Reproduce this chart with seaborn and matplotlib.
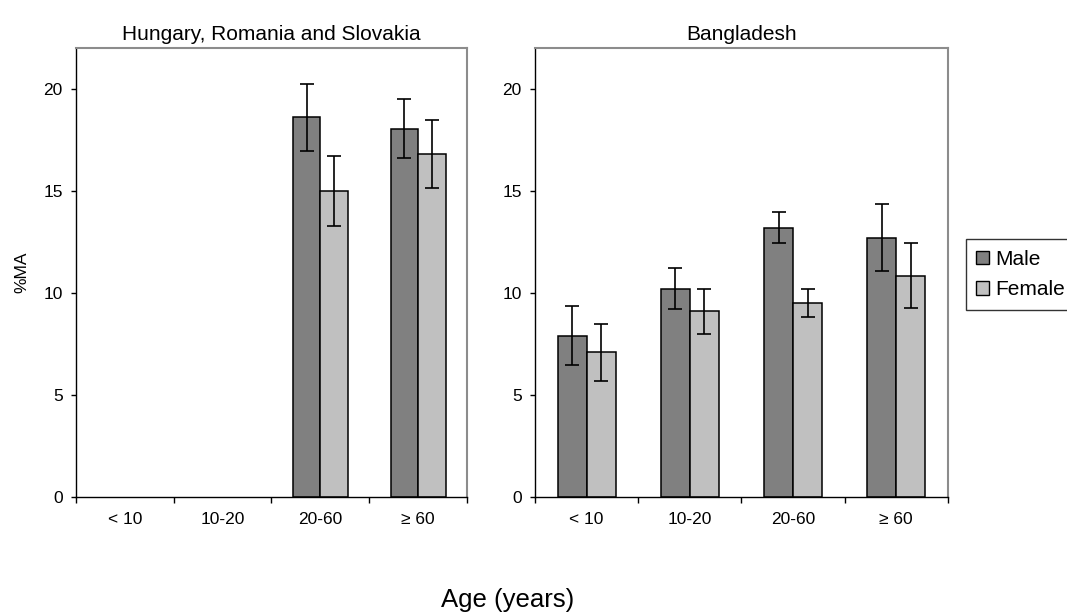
import numpy as np
import pandas as pd
import matplotlib
matplotlib.use('Agg')
import matplotlib.pyplot as plt
from matplotlib.patches import Patch
import seaborn as sns

# Values (% MA by age group and sex)
ages = ['< 10', '10-20', '20-60', '≥ 60']
sexes = ['Male', 'Female']

hrs_male = [np.nan, np.nan, 18.6, 18.05]
hrs_female = [np.nan, np.nan, 15.0, 16.8]
hrs_male_err = [np.nan, np.nan, 1.65, 1.45]
hrs_female_err = [np.nan, np.nan, 1.7, 1.65]

bgd_male = [7.9, 10.2, 13.2, 12.7]
bgd_female = [7.1, 9.1, 9.5, 10.85]
bgd_male_err = [1.45, 1.0, 0.75, 1.65]
bgd_female_err = [1.4, 1.1, 0.7, 1.58]

titles = ['Hungary, Romania and Slovakia', 'Bangladesh']
colors = {'Male': '#808080', 'Female': '#C0C0C0'}

sns.set_theme(style='white')
plt.rcParams['font.family'] = ['Liberation Sans', 'DejaVu Sans']
plt.rcParams['text.color'] = 'black'
plt.rcParams['xtick.color'] = 'black'
plt.rcParams['ytick.color'] = 'black'
plt.rcParams['axes.labelcolor'] = 'black'


def long_frame(male, female, male_err, female_err):
    df = pd.DataFrame({
        'Age': ages * 2,
        'Sex': ['Male'] * len(ages) + ['Female'] * len(ages),
        'MA': list(male) + list(female),
        'err': list(male_err) + list(female_err),
    })
    return df.dropna()


frames = [long_frame(hrs_male, hrs_female, hrs_male_err, hrs_female_err),
          long_frame(bgd_male, bgd_female, bgd_male_err, bgd_female_err)]

fig = plt.figure(figsize=(10.67, 6.15), dpi=100)
ax1 = fig.add_axes([0.0712, 0.1919, 0.3665, 0.730])
ax2 = fig.add_axes([0.5014, 0.1919, 0.3870, 0.730])

width = 0.56
for ax, df, title in zip([ax1, ax2], frames, titles):
    sns.barplot(data=df, x='Age', y='MA', hue='Sex', order=ages,
                hue_order=sexes, palette=colors, width=width,
                errorbar=None, edgecolor='black', linewidth=1.1,
                legend=False, ax=ax)

    # error bars at the dodged bar centres
    for j, sex in enumerate(sexes):
        sub = df[df['Sex'] == sex]
        xpos = [ages.index(a) + (j - 0.5) * width / 2 for a in sub['Age']]
        ax.errorbar(xpos, sub['MA'], yerr=sub['err'], fmt='none',
                    ecolor='black', elinewidth=1.2, capsize=4.8,
                    capthick=1.2, zorder=3)

    ax.set_xlim(-0.5, 3.5)
    ax.set_ylim(0, 22)
    ax.set_yticks([0, 5, 10, 15, 20])
    ax.set_xticks(np.arange(-0.5, 4, 1), labels=[''] * 5)
    ax.set_xticks(range(len(ages)), labels=ages, minor=True)
    ax.set_xlabel('')
    ax.set_ylabel('')
    ax.set_title(title, fontsize=15, pad=5.5, color='black')

    ax.tick_params(axis='x', which='major', direction='out', length=4.5,
                   width=1, color='black', bottom=True)
    ax.tick_params(axis='x', which='minor', length=0, pad=11,
                   labelsize=12.5, labelcolor='black')
    ax.tick_params(axis='y', direction='out', length=3.5, width=1,
                   color='black', left=True, pad=6, labelsize=12.5,
                   labelcolor='black')

    for side in ['left', 'bottom']:
        ax.spines[side].set_color('black')
        ax.spines[side].set_linewidth(1)
    for side in ['top', 'right']:
        ax.spines[side].set_color('#8c8c8c')
        ax.spines[side].set_linewidth(1.5)

fig.text(0.0203, 0.557, '%MA', rotation=90, ha='center', va='center',
         fontsize=12.5, color='black')
fig.text(0.476, 0.0135, 'Age (years)', ha='center', va='baseline',
         fontsize=18.5, color='black')

handles = [Patch(facecolor=colors[s], edgecolor='black', linewidth=1)
           for s in sexes]
leg = fig.legend(handles, sexes, loc='upper left',
                 bbox_to_anchor=(0.905, 0.611), fontsize=15,
                 handlelength=0.62, handleheight=0.62, handletextpad=0.3,
                 labelspacing=0.55, borderpad=0.5, borderaxespad=0,
                 fancybox=False, frameon=True)
leg.get_frame().set_edgecolor('black')
leg.get_frame().set_linewidth(1)
for t in leg.get_texts():
    t.set_color('black')

plt.savefig('out.png', dpi=100)
plt.close()
